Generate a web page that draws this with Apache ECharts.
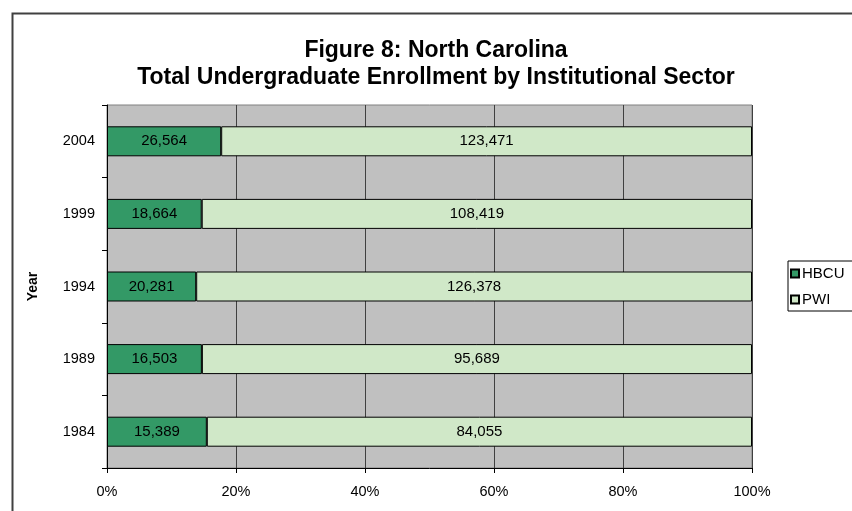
<!DOCTYPE html>
<html>
<head>
<meta charset="utf-8">
<script src="https://cdn.jsdelivr.net/npm/echarts@6/dist/echarts.min.js"></script>
<style>
  html, body { margin: 0; padding: 0; background: #ffffff; }
  #chart { width: 852px; height: 511px; }
</style>
</head>
<body>
<div id="chart"></div>
<script>
// Enrollment counts by year and sector
const years = ['1984', '1989', '1994', '1999', '2004'];
const hbcu = [15389, 16503, 20281, 18664, 26564];
const pwi = [84055, 95689, 126378, 108419, 123471];
const xTicks = [0, 20, 40, 60, 80, 100];

// Share of each year's total, in percent, for the 100% stacked bars
const totals = years.map((_, i) => hbcu[i] + pwi[i]);
const hbcuPct = hbcu.map((v, i) => v / totals[i] * 100);
const pwiPct = pwi.map((v, i) => v / totals[i] * 100);

const font = 'Arial, "Liberation Sans", sans-serif';

const chart = echarts.init(document.getElementById('chart'), null, { renderer: 'canvas' });

const labelStyle = (raw) => ({
  show: true,
  position: 'inside',
  color: '#000',
  fontFamily: font,
  fontSize: 15,
  formatter: (p) => raw[p.dataIndex].toLocaleString('en-US')
});

chart.setOption({
  animation: false,
  backgroundColor: '#ffffff',
  graphic: [{
    type: 'rect',
    left: 10, top: 11,
    shape: { width: 900, height: 600 },
    style: { fill: 'none', stroke: '#404040', lineWidth: 2 },
    silent: true
  }],
  title: {
    text: 'Figure 8: North Carolina\nTotal Undergraduate Enrollment by Institutional Sector',
    left: 431,
    textAlign: 'center',
    top: 32,
    textStyle: { fontFamily: font, fontSize: 23, fontWeight: 'bold', color: '#000', lineHeight: 27 }
  },
  legend: {
    orient: 'vertical',
    left: 788, top: 261,
    data: ['HBCU', 'PWI'],
    itemWidth: 8, itemHeight: 8, itemGap: 11,
    padding: [5, 30, 4, 2],
    borderColor: '#000', borderWidth: 1,
    icon: 'rect',
    textStyle: { fontFamily: font, fontSize: 15, color: '#000', padding: [0, 0, 0, -2] }
  },
  grid: {
    left: 107, right: 100, top: 105, bottom: 43,
    show: true,
    backgroundColor: '#c0c0c0',
    borderColor: '#808080', borderWidth: 1
  },
  xAxis: {
    type: 'value',
    min: xTicks[0], max: xTicks[xTicks.length - 1], interval: 20,
    axisLine: { show: true, lineStyle: { color: '#000', width: 1 } },
    axisTick: { show: true, length: 5, lineStyle: { color: '#000' } },
    axisLabel: { fontFamily: font, fontSize: 14.5, color: '#000', margin: 16, formatter: '{value}%' },
    splitLine: { show: true, lineStyle: { color: '#404040', width: 1 } }
  },
  yAxis: {
    type: 'category',
    data: years,
    name: 'Year',
    nameLocation: 'middle',
    nameRotate: 90,
    nameGap: 67,
    nameTextStyle: { fontFamily: font, fontSize: 14, fontWeight: 'bold', color: '#000' },
    axisLine: { show: true, lineStyle: { color: '#000', width: 1 } },
    axisTick: { show: true, length: 5, lineStyle: { color: '#000' } },
    axisLabel: { fontFamily: font, fontSize: 14.5, color: '#000', margin: 12 },
    splitLine: { show: false }
  },
  series: [
    {
      name: 'HBCU', type: 'bar', stack: 'total',
      data: hbcuPct, barWidth: 30,
      itemStyle: { color: '#339966', borderColor: '#000', borderWidth: 1 },
      label: labelStyle(hbcu)
    },
    {
      name: 'PWI', type: 'bar', stack: 'total',
      data: pwiPct, barWidth: 30,
      itemStyle: { color: '#d0e8c8', borderColor: '#000', borderWidth: 1 },
      label: labelStyle(pwi)
    }
  ]
});
</script>
</body>
</html>
